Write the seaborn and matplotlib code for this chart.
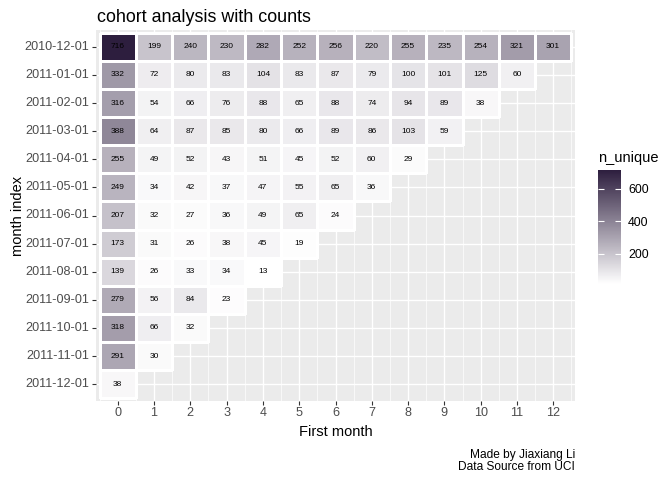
import matplotlib
import matplotlib.pyplot as plt
import numpy as np
import pandas as pd
import seaborn as sns
from matplotlib.colors import LinearSegmentedColormap

matplotlib.use("Agg")

# --- DATA ---
cohorts = ["2010-12-01", "2011-01-01", "2011-02-01", "2011-03-01", "2011-04-01",
           "2011-05-01", "2011-06-01", "2011-07-01", "2011-08-01", "2011-09-01",
           "2011-10-01", "2011-11-01", "2011-12-01"]
months = list(range(13))
n_unique = [
    [716, 199, 240, 230, 282, 252, 256, 220, 255, 235, 254, 321, 301],
    [332, 72, 80, 83, 104, 83, 87, 79, 100, 101, 125, 60],
    [316, 54, 66, 76, 88, 65, 88, 74, 94, 89, 38],
    [388, 64, 87, 85, 80, 66, 89, 86, 103, 59],
    [255, 49, 52, 43, 51, 45, 52, 60, 29],
    [249, 34, 42, 37, 47, 55, 65, 36],
    [207, 32, 27, 36, 49, 65, 24],
    [173, 31, 26, 38, 45, 19],
    [139, 26, 33, 34, 13],
    [279, 56, 84, 23],
    [318, 66, 32],
    [291, 30],
    [38],
]

TITLE = "cohort analysis with counts"
CAPTION = "Made by Jiaxiang Li\nData Source from UCI"

# build the cohort x month table (NaN where no data)
rows = []
for cohort, vals in zip(cohorts, n_unique):
    for m, v in enumerate(vals):
        rows.append({"cohort": cohort, "month": months[m], "n_unique": v})
df = pd.DataFrame(rows)
table = df.pivot(index="cohort", columns="month", values="n_unique").reindex(index=cohorts, columns=months)

plt.rcParams["font.family"] = ["Liberation Sans", "DejaVu Sans"]

fig = plt.figure(figsize=(6.72, 4.8), dpi=100)
ax = fig.add_axes([96 / 672, 1 - 401 / 480, 479 / 672, 371 / 480])
cax = fig.add_axes([598 / 672, 1 - 284 / 480, 23 / 672, 114 / 480])

cmap = LinearSegmentedColormap.from_list("cohort", ["#FFFFFF", "#2D1E3E"])
ax.set_facecolor("#EBEBEB")

sns.heatmap(table, ax=ax, cbar_ax=cax, cmap=cmap,
            vmin=df["n_unique"].min(), vmax=df["n_unique"].max(),
            annot=True, fmt=".0f", annot_kws={"size": 6, "color": "black"},
            linewidths=0.8, linecolor="white")

# only outline the tiles that actually hold a value
mesh = ax.collections[0]
has_val = ~np.isnan(table.values.ravel())
mesh.set_edgecolors([(1, 1, 1, 1) if ok else (1, 1, 1, 0) for ok in has_val])

# ggplot-like grid: majors at tile centres, minors at tile edges (x only)
n_x, n_y = len(months), len(cohorts)
ax.set_xticks(np.arange(n_x) + 0.5)
ax.set_xticklabels([str(m) for m in months])
ax.set_xticks(np.arange(n_x + 1), minor=True)
ax.set_yticks(np.arange(n_y) + 0.5)
ax.set_yticklabels(cohorts, rotation=0)
ax.set_xlim(-0.1, n_x + 0.1)
ax.set_ylim(n_y + 0.1, -0.1)
ax.set_axisbelow(True)
ax.grid(which="major", color="white", linewidth=1.0)
ax.grid(which="minor", axis="x", color="white", linewidth=0.5)
mesh.set_zorder(2)
for t in ax.texts:
    t.set_zorder(3)

ax.tick_params(which="major", length=2.6, width=0.8, color="#333333",
               labelcolor="#4D4D4D", labelsize=9.1, pad=2.0)
ax.tick_params(which="minor", length=0)
ax.set_xlabel("")
ax.set_ylabel("")
for s in ax.spines.values():
    s.set_visible(False)

# colourbar styled like a ggplot legend
cbar = mesh.colorbar
cbar.outline.set_visible(False)
cbar.set_ticks([200, 400, 600])
cax.yaxis.set_ticks_position("both")
cax.tick_params(which="both", direction="in", length=4.5, width=0.8, color="white",
                labelsize=8.9, labelcolor="black", labelleft=False, labelright=True, pad=5)
cax.minorticks_off()
fig.text(598 / 672, 1 - 158 / 480, "n_unique", fontsize=10.5, ha="left", va="center")

fig.text(97 / 672, 1 - 17 / 480, TITLE, fontsize=12.9, ha="left", va="center")
fig.text(335.5 / 672, 1 - 432 / 480, "First month", fontsize=10.5, ha="center", va="center")
fig.text(18 / 672, 1 - 215.5 / 480, "month index", fontsize=10.5, ha="center", va="center", rotation=90)
fig.text(575 / 672, 1 - 449 / 480, CAPTION, fontsize=8.6, ha="right", va="top",
         multialignment="right", linespacing=0.95)

fig.savefig("out.png", dpi=100)
plt.close(fig)
